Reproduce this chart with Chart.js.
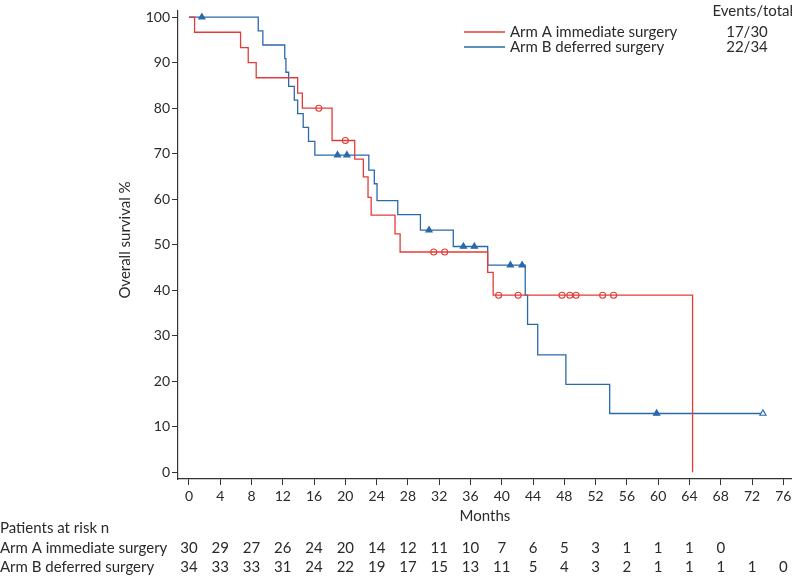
<!DOCTYPE html>
<html>
<head>
<meta charset="utf-8">
<script src="https://cdn.jsdelivr.net/npm/chart.js@4.4.1/dist/chart.umd.min.js"></script>
<style>
  html, body { margin: 0; padding: 0; background: #ffffff; }
  #wrap { width: 797px; height: 579px; }
</style>
</head>
<body>
<div id="wrap"><canvas id="c" width="797" height="579"></canvas></div>
<script>
// ---------- data ----------
const seriesNames = ['Arm A immediate surgery', 'Arm B deferred surgery'];
const eventsTotal = ['17/30', '22/34'];

const xTickValues = [0,4,8,12,16,20,24,28,32,36,40,44,48,52,56,60,64,68,72,76];
const yTickValues = [0,10,20,30,40,50,60,70,80,90,100];

// Kaplan-Meier steps (month, survival % after the step)
const armATime = [0, 0.72, 6.6, 7.58, 8.6, 13.9, 14.5, 18.3, 21.2, 22.3, 22.9, 23.3, 26.35, 27.0, 38.2, 38.9, 64.4];
const armASurv = [100, 96.7, 93.3, 90.0, 86.7, 83.3, 80.0, 72.9, 68.8, 64.9, 60.4, 56.5, 52.4, 48.4, 43.9, 38.9, 0];

const armBTime = [0, 8.86, 9.45, 12.25, 12.4, 12.75, 13.47, 13.9, 14.61, 15.29, 16.1, 23.0, 23.7, 24.05, 26.7, 29.6, 33.8, 38.2, 43.0, 43.3, 44.6, 48.2, 53.8, 73.4];
const armBSurv = [100, 97.0, 93.9, 90.9, 87.9, 84.8, 81.8, 78.8, 75.8, 72.7, 69.7, 66.4, 63.4, 59.7, 56.6, 53.2, 49.6, 45.5, 38.9, 32.5, 25.8, 19.3, 12.9, 12.9];

// censored observations
const armACensTime = [16.6, 20.0, 31.3, 32.7, 39.6, 42.1, 47.7, 48.7, 49.5, 52.9, 54.3];
const armACensSurv = [80.0, 72.9, 48.4, 48.4, 38.9, 38.9, 38.9, 38.9, 38.9, 38.9, 38.9];
const armBCensTime = [1.65, 19.0, 20.2, 30.7, 35.1, 36.5, 41.1, 42.6, 59.8, 73.4];
const armBCensSurv = [100, 69.7, 69.7, 53.2, 49.6, 49.6, 45.5, 45.5, 12.9, 12.9];

// numbers at risk
const riskTimesA = [0,4,8,12,16,20,24,28,32,36,40,44,48,52,56,60,64,68];
const riskA = [30,29,27,26,24,20,14,12,11,10,7,6,5,3,1,1,1,0];
const riskTimesB = [0,4,8,12,16,20,24,28,32,36,40,44,48,52,56,60,64,68,72,76];
const riskB = [34,33,33,31,24,22,19,17,15,13,11,5,4,3,2,1,1,1,1,0];

// ---------- style ----------
const RED = 'rgb(226,60,56)';
const BLUE = 'rgb(40,106,170)';
const TXT = '#2a2a2a';
const AXIS = '#333333';
const FONT = 'Lato, "Open Sans", sans-serif';

const zip = (xs, ys) => xs.map((x, i) => ({ x: x, y: ys[i] }));

const bCensFill = armBCensTime.map((t, i) => i === armBCensTime.length - 1 ? '#ffffff' : BLUE);

const overlay = {
  id: 'overlay',
  afterDraw(chart) {
    const ctx = chart.ctx;
    const xs = chart.scales.x;
    ctx.save();
    ctx.fillStyle = TXT;
    ctx.textBaseline = 'middle';

    // axis titles
    ctx.font = '15px ' + FONT;
    ctx.textAlign = 'center';
    ctx.fillText('Months', (chart.chartArea.left + chart.chartArea.right) / 2, 516);
    ctx.save();
    ctx.translate(125, 240);
    ctx.rotate(-Math.PI / 2);
    ctx.fillText('Overall survival %', 0, 0);
    ctx.restore();

    // legend
    ctx.font = '15px ' + FONT;
    ctx.textAlign = 'right';
    ctx.fillText('Events/total', 793, 11);
    const legY = [32, 47];
    const legCol = [RED, BLUE];
    for (let i = 0; i < 2; i++) {
      ctx.strokeStyle = legCol[i];
      ctx.lineWidth = 1.3;
      ctx.beginPath();
      ctx.moveTo(464, legY[i]);
      ctx.lineTo(505, legY[i]);
      ctx.stroke();
      ctx.textAlign = 'left';
      ctx.fillText(seriesNames[i], 510, legY[i]);
      ctx.textAlign = 'center';
      ctx.fillText(eventsTotal[i], 747, legY[i]);
    }

    // risk table
    ctx.textAlign = 'left';
    ctx.fillText('Patients at risk n', 0, 528);
    ctx.fillText(seriesNames[0], 0, 548);
    ctx.fillText(seriesNames[1], 0, 567);
    ctx.textAlign = 'center';
    riskTimesA.forEach((t, i) => ctx.fillText(String(riskA[i]), xs.getPixelForValue(t), 548));
    riskTimesB.forEach((t, i) => ctx.fillText(String(riskB[i]), xs.getPixelForValue(t), 567));
    ctx.restore();
  }
};

new Chart(document.getElementById('c'), {
  type: 'line',
  data: {
    datasets: [
      {
        label: 'A censored',
        data: zip(armACensTime, armACensSurv),
        showLine: false,
        pointStyle: 'circle',
        pointRadius: 3,
        pointBorderWidth: 1.1,
        pointBorderColor: RED,
        pointBackgroundColor: 'rgba(255,255,255,0)'
      },
      {
        label: 'B censored',
        data: zip(armBCensTime, armBCensSurv),
        showLine: false,
        pointStyle: 'triangle',
        pointRadius: 3.6,
        pointBorderWidth: 1.1,
        pointBorderColor: BLUE,
        pointBackgroundColor: bCensFill
      },
      {
        label: seriesNames[0],
        data: zip(armATime, armASurv),
        stepped: 'before',
        borderColor: RED,
        borderWidth: 1.3,
        pointRadius: 0,
        fill: false
      },
      {
        label: seriesNames[1],
        data: zip(armBTime, armBSurv),
        stepped: 'before',
        borderColor: BLUE,
        borderWidth: 1.3,
        pointRadius: 0,
        fill: false
      }
    ]
  },
  options: {
    responsive: false,
    animation: false,
    layout: { padding: { left: 0, right: 2, top: 1, bottom: 0 } },
    plugins: { legend: { display: false }, tooltip: { enabled: false }, title: { display: false } },
    scales: {
      x: {
        type: 'linear',
        min: -1.4,
        max: 77.1,
        afterFit(s) { s.height = 100; },
        afterBuildTicks(s) { s.ticks = xTickValues.map(v => ({ value: v })); },
        grid: { drawOnChartArea: false, drawTicks: true, tickLength: 6, color: AXIS, lineWidth: 1 },
        border: { display: true, color: AXIS, width: 1.2 },
        ticks: { color: TXT, font: { family: FONT, size: 14 }, padding: 3, maxRotation: 0, autoSkip: false }
      },
      y: {
        type: 'linear',
        min: -1.5,
        max: 101.5,
        afterFit(s) { s.width = 178; },
        afterBuildTicks(s) { s.ticks = yTickValues.map(v => ({ value: v })); },
        grid: { drawOnChartArea: false, drawTicks: true, tickLength: 6, color: AXIS, lineWidth: 1 },
        border: { display: true, color: AXIS, width: 1.2 },
        ticks: { color: TXT, font: { family: FONT, size: 14 }, padding: 2 }
      }
    }
  },
  plugins: [overlay]
});
</script>
</body>
</html>
